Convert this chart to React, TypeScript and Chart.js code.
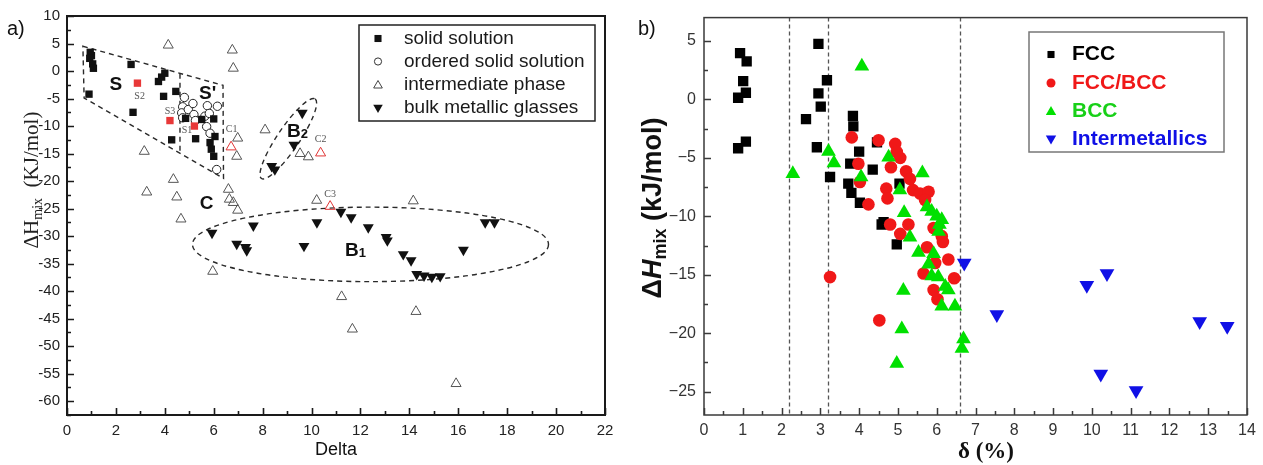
import { useEffect, useRef } from 'react';
import { Chart, registerables } from 'chart.js';

Chart.register(...registerables);

const SANS = 'Arial, "Liberation Sans", sans-serif';
const SERIF = '"Times New Roman", "Liberation Serif", serif';

type P = [number, number];

// ---------- Panel a): Delta vs ΔHmix ----------
const solidSolution: P[] = [
  [0.9, -4.2], [0.95, 3.4], [1.0, 2.8], [0.93, 2.3], [1.05, 1.3], [1.08, 0.5],
  [2.62, 1.2], [2.7, -7.5], [3.74, -1.9], [3.87, -1.1], [4.0, -0.4], [3.95, -4.6],
  [4.45, -3.7], [4.28, -12.5], [4.85, -8.6], [5.26, -12.3], [5.51, -8.8], [6.0, -8.7],
  [6.05, -11.9], [5.85, -13.0], [5.9, -14.2], [6.0, -15.5],
];
const solidSolutionMarked: P[] = [[2.88, -2.2], [4.21, -9.0], [5.21, -10.0]];
const solidSolutionNames = ['S2', 'S3', 'S1'];
const solidSolutionNamePos: P[] = [[2.97, -4.58], [4.21, -7.36], [4.91, -10.86]];
const orderedSolidSolution: P[] = [
  [4.8, -4.8], [4.73, -6.5], [4.69, -7.6], [4.73, -8.5], [4.96, -7.0], [5.15, -5.9],
  [5.19, -7.9], [5.25, -9.0], [5.64, -8.2], [5.74, -6.3], [5.82, -7.7], [6.15, -6.4],
  [5.71, -10.1], [5.85, -11.3], [6.12, -17.9],
];
const intermediatePhase: P[] = [
  [4.14, 4.7], [6.76, 3.8], [6.8, 0.5], [3.16, -14.6], [4.35, -19.7], [3.26, -22.0],
  [4.49, -22.9], [4.66, -26.9], [6.98, -12.2], [6.94, -15.5], [6.6, -21.5], [6.64, -23.3],
  [6.8, -23.9], [6.98, -25.3], [8.1, -10.7], [9.53, -15.0], [9.87, -15.6], [10.21, -23.5],
  [5.96, -36.4], [14.16, -23.6], [11.23, -41.0], [14.27, -43.7], [11.67, -46.9], [15.91, -56.8],
];
const intermediateMarked: P[] = [[6.71, -13.8], [10.37, -14.9], [10.76, -24.6]];
const intermediateNames = ['C1', 'C2', 'C3'];
const intermediateNamePos: P[] = [[6.73, -10.6], [10.37, -12.5], [10.76, -22.5]];
const bulkMetallicGlasses: P[] = [
  [9.62, -7.6], [9.28, -13.4], [8.37, -17.3], [8.5, -17.9], [5.93, -29.4], [6.94, -31.4],
  [7.3, -32.0], [7.35, -32.6], [7.62, -28.1], [9.69, -31.8], [10.22, -27.5], [11.2, -25.6],
  [11.62, -26.6], [12.32, -28.4], [13.05, -30.2], [13.1, -30.8], [13.75, -33.3], [14.07, -34.4],
  [14.3, -36.9], [14.6, -37.2], [14.92, -37.4], [15.26, -37.3], [16.21, -32.5], [17.1, -27.5],
  [17.48, -27.5],
];
const deltaTicks = [0, 2, 4, 6, 8, 10, 12, 14, 16, 18, 20, 22];
const hmixTicksA = [10, 5, 0, -5, -10, -15, -20, -25, -30, -35, -40, -45, -50, -55, -60];
const legendA = ['solid solution', 'ordered solid solution', 'intermediate phase', 'bulk metallic glasses'];

// region outlines (data units)
const sRegion: P[] = [[0.65, 4.5], [6.38, -2.6], [6.4, -19.5], [0.7, -4.9]];
const sPrimeDivider: P[] = [[4.62, -0.5], [4.62, -14.9]];

// ---------- Panel b): δ vs ΔHmix ----------
const fcc: P[] = [
  [0.93, 3.96], [1.1, 3.25], [1.01, 1.56], [0.88, 0.14], [1.08, 0.57], [0.88, -4.18], [1.08, -3.61],
  [2.95, 4.75], [3.17, 1.64], [2.95, 0.51], [3.01, -0.62], [2.63, -1.69], [2.91, -4.09], [3.25, -6.64],
  [3.84, -1.41], [3.85, -2.3], [4.0, -4.46], [3.77, -5.5], [4.35, -6.0], [3.72, -7.2], [3.8, -8.0],
  [4.02, -8.84], [4.46, -3.67], [5.04, -7.2], [4.63, -10.5], [4.58, -10.7], [4.97, -12.4],
];
const fccBcc: P[] = [
  [3.81, -3.25], [4.5, -3.5], [4.93, -3.8], [4.97, -4.5], [5.06, -5.0], [4.82, -5.8], [3.98, -5.5],
  [4.02, -7.06], [5.21, -6.15], [5.31, -6.8], [4.7, -7.63], [4.73, -8.47], [5.39, -7.76], [5.57, -8.05],
  [5.79, -7.9], [5.7, -8.6], [4.24, -8.98], [4.8, -10.7], [5.06, -11.5], [5.27, -10.7], [5.92, -11.0],
  [6.13, -11.7], [3.25, -15.2], [4.52, -18.9], [5.75, -12.65], [6.16, -12.2], [5.96, -14.0], [6.3, -13.7],
  [5.66, -14.9], [6.45, -15.3], [5.92, -16.3], [6.02, -17.1], [6.0, -11.0],
];
const bcc: P[] = [
  [4.07, 2.83], [2.29, -6.36], [3.21, -4.45], [3.35, -5.45], [4.05, -6.64], [4.76, -4.94], [5.05, -7.76],
  [5.16, -9.7], [5.63, -6.3], [5.75, -9.2], [5.87, -9.6], [6.0, -10.0], [6.13, -10.3], [5.31, -11.8],
  [6.05, -11.3], [5.53, -13.1], [5.92, -13.2], [5.79, -14.1], [5.87, -15.1], [6.04, -15.2], [6.22, -16.0],
  [6.3, -16.3], [6.13, -17.7], [6.47, -17.7], [5.14, -16.35], [5.1, -19.65], [4.97, -22.6], [6.69, -20.5],
  [6.65, -21.3], [6.07, -10.7],
];
const intermetallics: P[] = [
  [6.71, -14.0], [7.55, -18.4], [9.87, -15.9], [10.39, -14.9], [10.23, -23.5], [11.14, -24.9],
  [12.78, -19.0], [13.49, -19.4],
];
const deltaPctTicks = [0, 1, 2, 3, 4, 5, 6, 7, 8, 9, 10, 11, 12, 13, 14];
const hmixTicksB = [5, 0, -5, -10, -15, -20, -25];
const thresholdLines = [2.2, 3.2, 6.6];
const legendB = ['FCC', 'FCC/BCC', 'BCC', 'Intermetallics'];

const RED = '#f01818';
const GREEN = '#00e000';
const BLUE = '#1010e6';

const pts = (arr: P[]) => arr.map(([x, y]) => ({ x, y }));

function marker(ctx: CanvasRenderingContext2D, kind: string, x: number, y: number, r: number,
  fill: string | null, stroke: string | null, lw = 1) {
  ctx.beginPath();
  if (kind === 'rect') {
    const s = r * Math.SQRT1_2;
    ctx.rect(x - s, y - s, 2 * s, 2 * s);
  } else if (kind === 'circle') {
    ctx.arc(x, y, r, 0, Math.PI * 2);
  } else {
    const d = kind === 'up' ? 1 : -1;
    ctx.moveTo(x, y - d * r);
    ctx.lineTo(x + 0.866 * r, y + d * 0.5 * r);
    ctx.lineTo(x - 0.866 * r, y + d * 0.5 * r);
  }
  ctx.closePath();
  if (fill) { ctx.fillStyle = fill; ctx.fill(); }
  if (stroke) { ctx.setLineDash([]); ctx.strokeStyle = stroke; ctx.lineWidth = lw; ctx.stroke(); }
}

type Run = { text: string; font: string; dy: number };
function rotatedRuns(ctx: CanvasRenderingContext2D, cx: number, cy: number, runs: Run[], color: string) {
  ctx.save();
  ctx.translate(cx, cy);
  ctx.rotate(-Math.PI / 2);
  let total = 0;
  runs.forEach((r) => { ctx.font = r.font; total += ctx.measureText(r.text).width; });
  let u = -total / 2;
  ctx.fillStyle = color;
  ctx.textAlign = 'left';
  ctx.textBaseline = 'alphabetic';
  runs.forEach((r) => { ctx.font = r.font; ctx.fillText(r.text, u, r.dy); u += ctx.measureText(r.text).width; });
  ctx.restore();
}

function inwardTicks(chart: any, xMinor: number, yMinor: number, majorLen: number, minorLen: number,
  xMajorEvery: number, yMajorEvery: number, color: string, lw: number) {
  const { ctx, chartArea: a, scales: { x, y } } = chart;
  ctx.save();
  ctx.strokeStyle = color;
  ctx.lineWidth = lw;
  ctx.setLineDash([]);
  ctx.beginPath();
  const eps = 1e-6;
  for (let v = x.min; v <= x.max + eps; v += xMinor) {
    const isMajor = Math.abs(v / xMajorEvery - Math.round(v / xMajorEvery)) < 1e-6;
    const px = Math.round(x.getPixelForValue(v)) + 0.5;
    ctx.moveTo(px, a.bottom);
    ctx.lineTo(px, a.bottom - (isMajor ? majorLen : minorLen));
  }
  const start = Math.ceil(y.min / yMinor) * yMinor;
  for (let v = start; v <= y.max + eps; v += yMinor) {
    const isMajor = Math.abs(v / yMajorEvery - Math.round(v / yMajorEvery)) < 1e-6;
    const py = Math.round(y.getPixelForValue(v)) + 0.5;
    ctx.moveTo(a.left, py);
    ctx.lineTo(a.left + (isMajor ? majorLen : minorLen), py);
  }
  ctx.stroke();
  ctx.restore();
}

const panelAPlugin = {
  id: 'panelA',
  beforeDatasetsDraw(chart: any) {
    const { ctx, scales: { x, y } } = chart;
    const X = (v: number) => x.getPixelForValue(v);
    const Y = (v: number) => y.getPixelForValue(v);
    ctx.save();
    ctx.strokeStyle = '#2a2a2a';
    ctx.lineWidth = 1.4;
    ctx.setLineDash([5, 4]);
    ctx.beginPath();
    sRegion.forEach(([a, b], i) => (i ? ctx.lineTo(X(a), Y(b)) : ctx.moveTo(X(a), Y(b))));
    ctx.closePath();
    ctx.stroke();
    ctx.beginPath();
    ctx.moveTo(X(sPrimeDivider[0][0]), Y(sPrimeDivider[0][1]));
    ctx.lineTo(X(sPrimeDivider[1][0]), Y(sPrimeDivider[1][1]));
    ctx.stroke();
    // B2 cluster
    ctx.beginPath();
    ctx.ellipse(X(9.05), Y(-12.3), 48, 11, (-56 * Math.PI) / 180, 0, Math.PI * 2);
    ctx.stroke();
    // B1 cluster
    const cx = X(12.41), cy = Y(-31.5);
    ctx.beginPath();
    ctx.ellipse(cx, cy, X(12.41 + 7.28) - cx, Y(-31.5 - 6.77) - cy, 0, 0, Math.PI * 2);
    ctx.stroke();
    ctx.restore();
  },
  afterDraw(chart: any) {
    const { ctx, chartArea: a, scales: { x, y } } = chart;
    const X = (v: number) => x.getPixelForValue(v);
    const Y = (v: number) => y.getPixelForValue(v);
    ctx.save();
    // frame
    ctx.setLineDash([]);
    ctx.strokeStyle = '#1a1a1a';
    ctx.lineWidth = 2;
    ctx.strokeRect(a.left, a.top, a.right - a.left, a.bottom - a.top);
    ctx.restore();
    inwardTicks(chart, 1, 2.5, 7, 4, 2, 5, '#1a1a1a', 1.6);

    ctx.save();
    // region labels
    ctx.fillStyle = '#111';
    ctx.textAlign = 'center';
    ctx.textBaseline = 'middle';
    ctx.font = `bold 19px ${SANS}`;
    ctx.fillText('S', X(2.0), Y(-2.48));
    ctx.fillText("S'", X(5.75), Y(-4.1));
    ctx.fillText('C', X(5.71), Y(-24.2));
    ctx.textAlign = 'left';
    ctx.fillText('B', X(9.0), Y(-10.95));
    let w = ctx.measureText('B').width;
    ctx.font = `bold 13px ${SANS}`;
    ctx.fillText('2', X(9.0) + w, Y(-10.95) + 3);
    ctx.font = `bold 19px ${SANS}`;
    ctx.fillText('B', X(11.37), Y(-32.6));
    w = ctx.measureText('B').width;
    ctx.font = `bold 13px ${SANS}`;
    ctx.fillText('1', X(11.37) + w, Y(-32.6) + 3);

    // sample tags
    ctx.textAlign = 'center';
    ctx.font = `10px ${SERIF}`;
    ctx.fillStyle = '#555';
    solidSolutionNames.forEach((t, i) => ctx.fillText(t, X(solidSolutionNamePos[i][0]), Y(solidSolutionNamePos[i][1])));
    intermediateNames.forEach((t, i) => ctx.fillText(t, X(intermediateNamePos[i][0]), Y(intermediateNamePos[i][1])));

    // legend
    ctx.fillStyle = '#fff';
    ctx.fillRect(359, 25, 236, 96);
    ctx.strokeStyle = '#222';
    ctx.lineWidth = 1.5;
    ctx.strokeRect(359, 25, 236, 96);
    const ly = [38.5, 61.5, 84.5, 107.5];
    marker(ctx, 'rect', 378, ly[0], 5, '#111', null);
    marker(ctx, 'circle', 378, ly[1], 3.6, '#fff', '#333', 1);
    marker(ctx, 'up', 378, ly[2] + 1, 5, null, '#444', 1);
    marker(ctx, 'down', 378, ly[3], 5.5, '#111', null);
    ctx.fillStyle = '#1a1a1a';
    ctx.font = `19px ${SANS}`;
    ctx.textAlign = 'left';
    ctx.textBaseline = 'middle';
    legendA.forEach((t, i) => ctx.fillText(t, 404, ly[i]));

    // panel letter and axis titles
    ctx.font = `20px ${SANS}`;
    ctx.fillStyle = '#111';
    ctx.fillText('a)', 7, 29);
    ctx.textAlign = 'center';
    ctx.font = `18px ${SANS}`;
    ctx.fillText('Delta', (a.left + a.right) / 2, 450);
    ctx.restore();

    rotatedRuns(ctx, 31, 180, [
      { text: '\u0394H', font: `21px ${SERIF}`, dy: 7 },
      { text: 'mix', font: `14px ${SERIF}`, dy: 11 },
      { text: '  (KJ/mol)', font: `21px ${SERIF}`, dy: 7 },
    ], '#222');
  },
};

const panelBPlugin = {
  id: 'panelB',
  beforeDatasetsDraw(chart: any) {
    const { ctx, chartArea: a, scales: { x } } = chart;
    ctx.save();
    ctx.strokeStyle = '#555';
    ctx.lineWidth = 1.3;
    ctx.setLineDash([4, 3]);
    thresholdLines.forEach((v) => {
      const px = Math.round(x.getPixelForValue(v)) + 0.5;
      ctx.beginPath();
      ctx.moveTo(px, a.top);
      ctx.lineTo(px, a.bottom);
      ctx.stroke();
    });
    ctx.restore();
  },
  afterDraw(chart: any) {
    const { ctx, chartArea: a } = chart;
    ctx.save();
    ctx.setLineDash([]);
    ctx.strokeStyle = '#3a3a3a';
    ctx.lineWidth = 1.5;
    ctx.strokeRect(a.left, a.top, a.right - a.left, a.bottom - a.top);
    ctx.restore();
    inwardTicks(chart, 0.5, 2.5, 7, 4, 1, 5, '#3a3a3a', 1.5);

    ctx.save();
    // legend
    ctx.fillStyle = '#fff';
    ctx.fillRect(399, 32, 195, 120);
    ctx.strokeStyle = '#777';
    ctx.lineWidth = 1.5;
    ctx.strokeRect(399, 32, 195, 120);
    const ly = [54.5, 83, 111, 139.5];
    marker(ctx, 'rect', 421, ly[0], 5, '#000', null);
    marker(ctx, 'circle', 421, ly[1], 4.5, RED, null);
    marker(ctx, 'up', 421, ly[2] + 1, 6, GREEN, null);
    marker(ctx, 'down', 421, ly[3] - 1, 6, BLUE, null);
    const colors = ['#000', RED, '#18d018', BLUE];
    ctx.font = `bold 21px ${SANS}`;
    ctx.textAlign = 'left';
    ctx.textBaseline = 'middle';
    legendB.forEach((t, i) => { ctx.fillStyle = colors[i]; ctx.fillText(t, 442, ly[i]); });

    ctx.fillStyle = '#111';
    ctx.font = `20px ${SANS}`;
    ctx.fillText('b)', 8, 29);
    ctx.textAlign = 'center';
    ctx.font = `bold 23px ${SERIF}`;
    ctx.fillText('\u03B4 (%)', 356, 452);
    ctx.restore();

    rotatedRuns(ctx, 21, 208, [
      { text: '\u0394', font: `bold 27px ${SANS}`, dy: 10 },
      { text: 'H', font: `italic bold 27px ${SANS}`, dy: 10 },
      { text: 'mix', font: `bold 18px ${SANS}`, dy: 15 },
      { text: ' (kJ/mol)', font: `bold 27px ${SANS}`, dy: 10 },
    ], '#111');
  },
};

function axis(min: number, max: number, tickValues: number[], size: number, color: string, padding: number,
  fmt: (v: number) => string, fit: (s: any) => void) {
  return {
    type: 'linear' as const,
    min,
    max,
    grid: { display: false, drawTicks: false },
    border: { display: false },
    ticks: {
      font: { family: SANS, size },
      color,
      padding,
      autoSkip: false,
      maxRotation: 0,
      callback: (v: any) => fmt(Number(v)),
    },
    afterBuildTicks: (s: any) => { s.ticks = tickValues.map((value) => ({ value })); },
    afterFit: fit,
  };
}

export default function App() {
  const leftRef = useRef<HTMLCanvasElement>(null);
  const rightRef = useRef<HTMLCanvasElement>(null);

  useEffect(() => {
    const plain = (v: number) => String(v);
    const minus = (v: number) => (v < 0 ? '\u2212' + Math.abs(v) : String(v));
    const common = {
      responsive: false,
      animation: false as const,
      events: [] as any[],
      plugins: { legend: { display: false }, tooltip: { enabled: false } },
    };

    const a = new Chart(leftRef.current!, {
      type: 'scatter',
      data: {
        datasets: [
          { label: 'solid solution', data: pts(solidSolution), pointStyle: 'rect', pointRadius: 5.2, backgroundColor: '#111', borderColor: '#111', borderWidth: 0 },
          { label: 'solid solution (S)', data: pts(solidSolutionMarked), pointStyle: 'rect', pointRadius: 5.2, backgroundColor: '#e83838', borderColor: '#e83838', borderWidth: 0 },
          { label: 'ordered solid solution', data: pts(orderedSolidSolution), pointStyle: 'circle', pointRadius: 4.2, backgroundColor: '#fff', borderColor: '#222', borderWidth: 1 },
          { label: 'intermediate phase', data: pts(intermediatePhase), pointStyle: 'triangle', pointRadius: 5.8, backgroundColor: 'rgba(255,255,255,0)', borderColor: '#555', borderWidth: 1 },
          { label: 'intermediate phase (C)', data: pts(intermediateMarked), pointStyle: 'triangle', pointRadius: 5.8, backgroundColor: 'rgba(255,255,255,0)', borderColor: '#e03434', borderWidth: 1 },
          { label: 'bulk metallic glasses', data: pts(bulkMetallicGlasses), pointStyle: 'triangle', rotation: 180, pointRadius: 6.3, backgroundColor: '#111', borderColor: '#111', borderWidth: 0 },
        ] as any,
      },
      options: {
        ...common,
        layout: { padding: { left: 0, top: 14, right: 25, bottom: 0 } },
        scales: {
          x: axis(0, 22, deltaTicks, 15, '#222', 7, plain, (s: any) => { s.height = 50; }),
          y: axis(-62.5, 10, hmixTicksA, 15, '#222', 7, plain, (s: any) => { s.width = 67; }),
        },
      } as any,
      plugins: [panelAPlugin],
    });

    const b = new Chart(rightRef.current!, {
      type: 'scatter',
      data: {
        datasets: [
          { label: 'BCC', data: pts(bcc), pointStyle: 'triangle', pointRadius: 8.5, backgroundColor: GREEN, borderColor: GREEN, borderWidth: 0 },
          { label: 'FCC/BCC', data: pts(fccBcc), pointStyle: 'circle', pointRadius: 6.3, backgroundColor: RED, borderColor: RED, borderWidth: 0 },
          { label: 'FCC', data: pts(fcc), pointStyle: 'rect', pointRadius: 7.3, backgroundColor: '#000', borderColor: '#000', borderWidth: 0 },
          { label: 'Intermetallics', data: pts(intermetallics), pointStyle: 'triangle', rotation: 180, pointRadius: 8.5, backgroundColor: BLUE, borderColor: BLUE, borderWidth: 0 },
        ] as any,
      },
      options: {
        ...common,
        layout: { padding: { left: 0, top: 13, right: 16, bottom: 0 } },
        scales: {
          x: axis(0, 14, deltaPctTicks, 16, '#333', 6, plain, (s: any) => { s.height = 50; }),
          y: axis(-27, 7, hmixTicksB, 16, '#333', 8, minus, (s: any) => { s.width = 74; }),
        },
      } as any,
      plugins: [panelBPlugin],
    });

    return () => { a.destroy(); b.destroy(); };
  }, []);

  return (
    <div style={{ position: 'fixed', left: 0, top: 0, width: 1263, height: 465, background: '#fff' }}>
      <canvas ref={leftRef} width={630} height={465} style={{ position: 'absolute', left: 0, top: 0, width: 630, height: 465 }} />
      <canvas ref={rightRef} width={633} height={465} style={{ position: 'absolute', left: 630, top: 0, width: 633, height: 465 }} />
    </div>
  );
}
